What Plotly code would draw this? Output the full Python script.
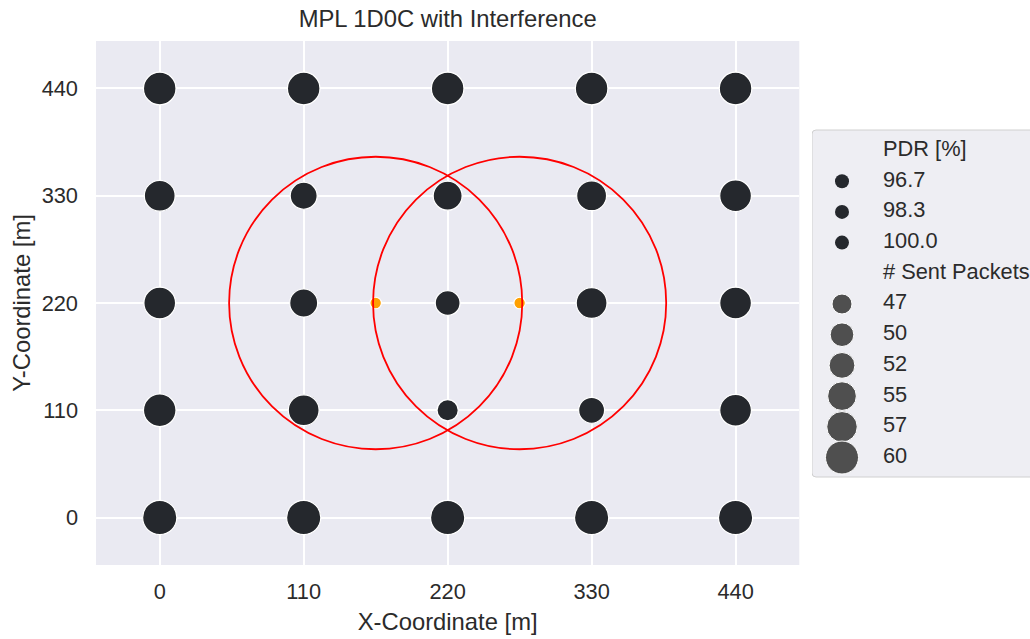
import numpy as np
import plotly.graph_objects as go

# ---------------- data ----------------
title_text = "MPL 1D0C with Interference"
x_label = "X-Coordinate [m]"
y_label = "Y-Coordinate [m]"
tick_vals = [0, 110, 220, 330, 440]
tick_text = ["0", "110", "220", "330", "440"]

node_x = [0, 110, 220, 330, 440] * 5
node_y = [440] * 5 + [330] * 5 + [220] * 5 + [110] * 5 + [0] * 5
sent_packets = [58, 58, 58, 58, 58,
                56, 52, 54, 55, 57,
                57, 53, 50, 56, 57,
                58, 56, 47, 51, 57,
                60, 60, 60, 60, 60]

interferer_x = [165, 275]
interferer_y = [220, 220]
circle_rx = [112, 112]
circle_ry = [150, 150]

pdr_legend_title = "PDR [%]"
pdr_legend = ["96.7", "98.3", "100.0"]
packets_legend_title = "# Sent Packets"
packets_legend = [47, 50, 52, 55, 57, 60]

# ---------------- style ----------------
FONT = "Liberation Sans, Arial, Helvetica, sans-serif"
TXT = "#2b2b2b"
NODE_C = "#25282d"
SIZE_C = "#4f4f4f"
AX_BG = "#EAEAF2"
RANGE = [-48.7, 488.7]
TICK_FS = 21.8
LABEL_FS = 23.8


def marker_px(v):
    # marker area linear in sent packets
    v = np.asarray(v, dtype=float)
    return np.sqrt(400 + 53 * (v - 47))


W, H = 1030, 639
ML, MR, MT, MB = 96, 0, 41, 74
paper_w = W - ML - MR
main_right = (799.3 - ML) / paper_w
leg_left = (812 - ML) / paper_w

fig = go.Figure()

# nodes
fig.add_trace(go.Scatter(
    x=node_x, y=node_y, mode="markers",
    marker=dict(size=marker_px(sent_packets) + 1.2, color=NODE_C, opacity=1,
                line=dict(color="white", width=1.2)),
    showlegend=False, hoverinfo="skip", xaxis="x", yaxis="y"))

# interference circles
for cx, cy, rx, ry in zip(interferer_x, interferer_y, circle_rx, circle_ry):
    fig.add_shape(type="circle", xref="x", yref="y",
                  x0=cx - rx, x1=cx + rx, y0=cy - ry, y1=cy + ry,
                  line=dict(color="red", width=1.8), layer="above")

# interferers
fig.add_trace(go.Scatter(
    x=interferer_x, y=interferer_y, mode="markers",
    marker=dict(size=11.5, color="#FFA000", opacity=1, line=dict(color="white", width=1.2)),
    showlegend=False, hoverinfo="skip", xaxis="x", yaxis="y"))

# main axes background (below gridlines)
fig.add_shape(type="rect", xref="x domain", yref="y domain", x0=0, x1=1, y0=0, y1=1,
              fillcolor=AX_BG, line=dict(width=0), layer="below")

# ---------------- legend drawn on a helper axis (units = pixels) ----------------
rows = [pdr_legend_title] + pdr_legend + [packets_legend_title] + [str(v) for v in packets_legend]
row0, row_step = 150.5, 30.7
row_y = [row0 + i * row_step for i in range(len(rows))]
mark_x = 30
text_x = 71

box_top, box_bot, box_l, box_r, rr = 130, 477, 0, 240, 4
path = (f"M {box_l+rr},{box_top} L {box_r-rr},{box_top} Q {box_r},{box_top} {box_r},{box_top+rr} "
        f"L {box_r},{box_bot-rr} Q {box_r},{box_bot} {box_r-rr},{box_bot} L {box_l+rr},{box_bot} "
        f"Q {box_l},{box_bot} {box_l},{box_bot-rr} L {box_l},{box_top+rr} Q {box_l},{box_top} {box_l+rr},{box_top} Z")
fig.add_shape(type="path", path=path, xref="x2", yref="y2",
              fillcolor="#EEEEF3", line=dict(color="#D0D0D0", width=1), layer="below")

pdr_rows_y = row_y[1:1 + len(pdr_legend)]
fig.add_trace(go.Scatter(
    x=[mark_x] * len(pdr_legend), y=pdr_rows_y, mode="markers",
    marker=dict(size=14, color=NODE_C, opacity=1), cliponaxis=False,
    showlegend=False, hoverinfo="skip", xaxis="x2", yaxis="y2"))

pk_rows_y = row_y[2 + len(pdr_legend):]
fig.add_trace(go.Scatter(
    x=[mark_x] * len(packets_legend), y=pk_rows_y, mode="markers",
    marker=dict(size=marker_px(packets_legend), color=SIZE_C, opacity=1), cliponaxis=False,
    showlegend=False, hoverinfo="skip", xaxis="x2", yaxis="y2"))

fig.add_trace(go.Scatter(
    x=[text_x] * len(rows), y=row_y, mode="text", text=rows,
    textposition="middle right", textfont=dict(family=FONT, size=TICK_FS, color=TXT),
    cliponaxis=False, showlegend=False, hoverinfo="skip", xaxis="x2", yaxis="y2"))

axis_common = dict(
    showgrid=True, gridcolor="white", gridwidth=2.2, zeroline=False,
    showline=False, ticks="", tickfont=dict(family=FONT, size=TICK_FS, color=TXT),
    tickvals=tick_vals, ticktext=tick_text, range=RANGE, fixedrange=True)

fig.update_layout(
    width=W, height=H,
    margin=dict(l=ML, r=MR, t=MT, b=MB, autoexpand=False),
    paper_bgcolor="white", plot_bgcolor="white",
    font=dict(family=FONT, color=TXT),
    title=dict(text=title_text, x=main_right / 2, xref="paper", xanchor="center",
               y=1 - 19 / H, yref="container", yanchor="middle",
               font=dict(family=FONT, size=LABEL_FS, color=TXT)),
    xaxis=dict(domain=[0, main_right], ticklabelstandoff=11,
               title=dict(text=x_label, font=dict(family=FONT, size=LABEL_FS, color=TXT), standoff=10),
               **axis_common),
    yaxis=dict(domain=[0, 1], ticklabelstandoff=17,
               title=dict(text=y_label, font=dict(family=FONT, size=LABEL_FS, color=TXT), standoff=4),
               **axis_common),
    xaxis2=dict(domain=[leg_left, 1], range=[0, W - 812], visible=False, fixedrange=True, anchor="y2"),
    yaxis2=dict(domain=[0, 1], range=[H - MB, MT], visible=False, fixedrange=True, anchor="x2"),
    showlegend=False,
)

fig.write_html("out.html", config={"displayModeBar": False},
               post_script="document.body.style.margin='0px';document.body.style.overflow='hidden';")
